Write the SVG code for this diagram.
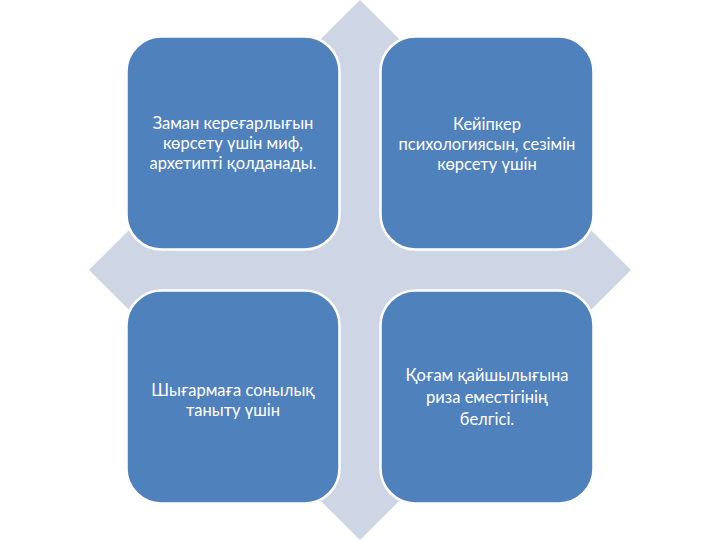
<svg xmlns="http://www.w3.org/2000/svg" width="720" height="540" viewBox="0 0 720 540">
<style>
.box{fill:#4F81BD;stroke:#FFFFFF;stroke-width:2.5}
.t{font-family:Lato,"Liberation Sans",sans-serif;font-size:16.5px;fill:#FFFFFF;text-anchor:middle}
</style>
<rect width="720" height="540" fill="#FFFFFF"/>
<g id="background">
<polygon points="360,0 631,270 360,540 89,270" fill="#CED5E5"/>
</g>
<g id="connectors"></g>
<g id="node1">
<rect class="box" x="126.5" y="36.5" width="213" height="213" rx="35"/>
<text class="t" x="233" y="129">Заман кереғарлығын</text>
<text class="t" x="233" y="149">көрсету үшін миф,</text>
<text class="t" x="233" y="169">архетипті қолданады.</text>
</g>
<g id="node2">
<rect class="box" x="380.5" y="36.5" width="213" height="213" rx="35"/>
<text class="t" x="487" y="130">Кейіпкер</text>
<text class="t" x="487" y="150">психологиясын, сезімін</text>
<text class="t" x="487" y="170">көрсету үшін</text>
</g>
<g id="node3">
<rect class="box" x="126.5" y="290.5" width="213" height="213" rx="35"/>
<text class="t" x="233" y="396">Шығармаға сонылық</text>
<text class="t" x="233" y="416">таныту үшін</text>
</g>
<g id="node4">
<rect class="box" x="380.5" y="290.5" width="213" height="213" rx="35"/>
<text class="t" x="487" y="381">Қоғам қайшылығына</text>
<text class="t" x="487" y="403">риза еместігінің</text>
<text class="t" x="487" y="425">белгісі.</text>
</g>
</svg>
